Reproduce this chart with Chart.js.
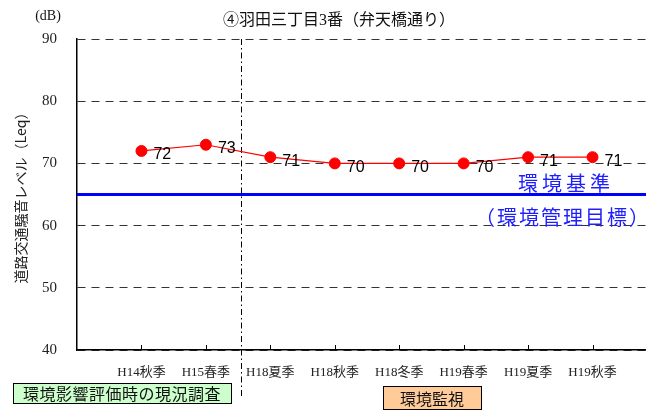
<!DOCTYPE html>
<html lang="ja">
<head>
<meta charset="utf-8">
<title>④羽田三丁目3番（弁天橋通り）</title>
<script src="https://cdn.jsdelivr.net/npm/chart.js@4.4.1/dist/chart.umd.min.js"></script>
<style>
  html, body { margin: 0; padding: 0; background: #fff; overflow: hidden; }
  canvas { display: block; }
</style>
</head>
<body>
<canvas id="c" width="646" height="410"></canvas>
<script>
// Survey seasons and measured road traffic noise levels (Leq, dB)
const categories = ['H14秋季', 'H15春季', 'H18夏季', 'H18秋季', 'H18冬季', 'H19春季', 'H19夏季', 'H19秋季'];
const levels = [72, 73, 71, 70, 70, 70, 71, 71];
const yTicks = [40, 50, 60, 70, 80, 90];

// Environmental standard (management target)
const standardLevel = 65;
const standardLines = ['環境基準', '（環境管理目標）'];

// Survey periods: before / after the divider
const periodLabels = ['環境影響評価時の現況調査', '環境監視'];
const dividerAt = 2.55;

const chartTitle = '④羽田三丁目3番（弁天橋通り）';
const yTitle = '道路交通騒音レベル（Leq）';
const unitLabel = '(dB)';

const SERIF = '"Liberation Serif", "Noto Sans CJK JP", serif';
const CJK = '"Noto Sans CJK JP", "Liberation Serif", sans-serif';

const overlay = {
  id: 'overlay',
  beforeDatasetsDraw(chart) {
    const { ctx, chartArea: a, scales: { x, y } } = chart;
    ctx.save();
    // standard line
    const ys = y.getPixelForValue(standardLevel);
    ctx.strokeStyle = '#0000ff';
    ctx.lineWidth = 3;
    ctx.beginPath();
    ctx.moveTo(a.left, ys);
    ctx.lineTo(a.right, ys);
    ctx.stroke();

    // dash-dot divider between the two survey periods
    const xd = Math.round(x.getPixelForValue(dividerAt)) + 0.5;
    ctx.strokeStyle = '#000';
    ctx.lineWidth = 1;
    ctx.setLineDash([6, 3, 1.5, 3]);
    ctx.beginPath();
    ctx.moveTo(xd, a.top);
    ctx.lineTo(xd, a.bottom + 48);
    ctx.stroke();
    ctx.setLineDash([]);

    // inward tick marks on the category axis
    ctx.strokeStyle = '#000';
    ctx.lineWidth = 1;
    x.ticks.forEach(t => {
      const px = Math.round(x.getPixelForValue(t.value)) + 0.5;
      ctx.beginPath();
      ctx.moveTo(px, a.bottom);
      ctx.lineTo(px, a.bottom - 5);
      ctx.stroke();
    });

    // standard label
    ctx.fillStyle = '#1e1eff';
    ctx.font = '20px ' + CJK;
    ctx.textAlign = 'center';
    ctx.textBaseline = 'middle';
    ctx.letterSpacing = '4px';
    ctx.fillText(standardLines[0], 566, ys - 11);
    ctx.letterSpacing = '2px';
    ctx.fillText(standardLines[1], 563, ys + 23);
    ctx.letterSpacing = '0px';
    ctx.restore();
  },
  afterDatasetsDraw(chart) {
    const { ctx } = chart;
    const meta = chart.getDatasetMeta(0);
    ctx.save();
    ctx.fillStyle = '#000';
    ctx.font = '16px "Liberation Sans", Arial, sans-serif';
    ctx.textAlign = 'left';
    ctx.textBaseline = 'middle';
    meta.data.forEach((pt, i) => {
      ctx.fillText(String(levels[i]), pt.x + 12, pt.y + 4);
    });
    ctx.restore();
  },
  afterDraw(chart) {
    const { ctx } = chart;
    ctx.save();
    ctx.textBaseline = 'middle';
    ctx.textAlign = 'center';

    // title and unit
    ctx.fillStyle = '#111';
    ctx.font = '16px ' + SERIF;
    ctx.fillText(chartTitle, 339, 21);
    ctx.font = '14px ' + SERIF;
    ctx.fillText(unitLabel, 48, 16);

    // period boxes
    const boxes = [
      { x: 13, y: 383, w: 218, h: 20, fill: '#ccffcc', text: periodLabels[0], spacing: '0.5px' },
      { x: 383, y: 386, w: 98, h: 23, fill: '#ffcc99', text: periodLabels[1], spacing: '0px' }
    ];
    boxes.forEach(b => {
      ctx.fillStyle = b.fill;
      ctx.fillRect(b.x, b.y, b.w, b.h);
      ctx.strokeStyle = '#000';
      ctx.lineWidth = 1;
      ctx.strokeRect(b.x + 0.5, b.y + 0.5, b.w, b.h);
      ctx.fillStyle = '#111';
      ctx.font = '16px ' + CJK;
      ctx.letterSpacing = b.spacing;
      ctx.fillText(b.text, b.x + b.w / 2, b.y + b.h / 2 + 1);
    });
    ctx.letterSpacing = '0px';
    ctx.restore();
  }
};

new Chart(document.getElementById('c'), {
  type: 'line',
  data: {
    datasets: [{
      data: levels.map((v, i) => ({ x: i + 1, y: v })),
      borderColor: '#ff0000',
      borderWidth: 1.2,
      backgroundColor: '#ff0000',
      pointBackgroundColor: '#ff0000',
      pointBorderColor: '#ff0000',
      pointBorderWidth: 1,
      pointRadius: 5.5,
      tension: 0,
      fill: false
    }]
  },
  options: {
    responsive: false,
    animation: false,
    devicePixelRatio: 1,
    layout: { autoPadding: false, padding: { top: 39, right: 0, bottom: 0, left: 0 } },
    plugins: {
      legend: { display: false },
      tooltip: { enabled: false },
      title: { display: false }
    },
    scales: {
      x: {
        type: 'linear',
        min: 0,
        max: 8.83,
        afterBuildTicks(scale) {
          scale.ticks = categories.map((_, i) => ({ value: i + 1 }));
        },
        afterFit(scale) {
          scale.height = 60;
          scale.paddingLeft = 0;
          scale.paddingRight = 0;
        },
        grid: { display: false, drawTicks: false },
        border: { display: true, color: '#000', width: 1.5 },
        ticks: {
          autoSkip: false,
          maxRotation: 0,
          minRotation: 0,
          padding: 15,
          color: '#222',
          font: { size: 13, family: SERIF },
          callback: v => categories[v - 1] ?? ''
        }
      },
      y: {
        min: 40,
        max: 90,
        afterBuildTicks(scale) {
          scale.ticks = yTicks.map(v => ({ value: v }));
        },
        afterFit(scale) { scale.width = 77; },
        grid: { color: '#333', lineWidth: 1, drawTicks: false },
        border: { display: true, color: '#000', width: 1.5, dash: [8, 6] },
        ticks: {
          padding: 20,
          color: '#222',
          font: { size: 15, family: SERIF }
        },
        title: {
          display: true,
          text: yTitle,
          color: '#222',
          font: { size: 14, family: CJK },
          padding: { top: 12, bottom: 0 }
        }
      }
    }
  },
  plugins: [overlay]
});
</script>
</body>
</html>
